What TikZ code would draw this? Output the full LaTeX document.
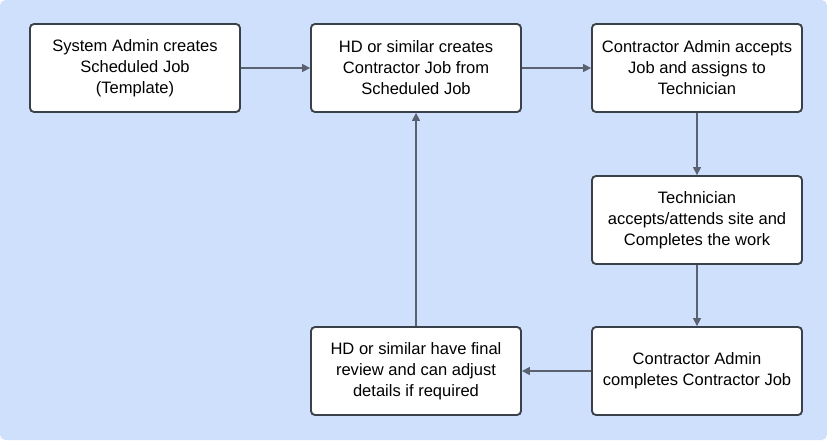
\documentclass[tikz,border=0pt]{standalone}
\usepackage{fontspec}
\setmainfont{Liberation Sans}
\usetikzlibrary{arrows.meta}
\definecolor{bg}{HTML}{CFE0FC}
\definecolor{bd}{HTML}{3A414A}
\definecolor{ar}{HTML}{5A6270}
\begin{document}
\begin{tikzpicture}[x=0.75pt,y=-0.75pt,
  box/.style={draw=bd,line width=1.4pt,fill=white,rounded corners=3pt,minimum width=157.5pt,minimum height=66pt,align=center,font=\fontsize{12.4}{15.8}\selectfont,inner sep=0pt},
  arr/.style={draw=ar,line width=1.1pt,-{Triangle[length=6pt,width=6pt]}}]
\fill[bg,rounded corners=4pt] (0,0) rectangle (827,440);
\useasboundingbox (0,0) rectangle (827,440);
\node[box] (b1) at (135,68) {System Admin creates\\Scheduled Job\\(Template)};
\node[box] (b2) at (416,68) {HD or similar creates\\Contractor Job from\\Scheduled Job};
\node[box] (b3) at (697,68) {Contractor Admin accepts\\Job and assigns to\\Technician};
\node[box] (b4) at (697,220) {Technician\\accepts/attends site and\\Completes the work};
\node[box] (b5) at (697,371) {Contractor Admin\\completes Contractor Job};
\node[box] (b6) at (416,371) {HD or similar have final\\review and can adjust\\details if required};
\draw[arr] (b1) -- (b2);
\draw[arr] (b2) -- (b3);
\draw[arr] (b3) -- (b4);
\draw[arr] (b4) -- (b5);
\draw[arr] (b5) -- (b6);
\draw[arr] (b6) -- (b2);
\end{tikzpicture}
\end{document}
